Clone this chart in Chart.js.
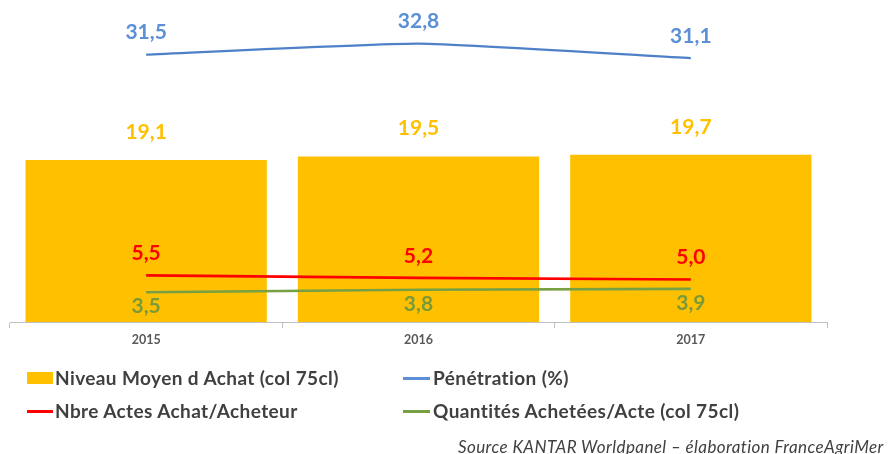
<!DOCTYPE html>
<html>
<head>
<meta charset="utf-8">
<script src="https://cdn.jsdelivr.net/npm/chart.js@4/dist/chart.umd.min.js"></script>
<style>
  html, body { margin: 0; padding: 0; background: #fff; }
  #wrap { position: relative; width: 894px; height: 454px; overflow: hidden; }
  canvas { position: absolute; left: 0; top: 0; }
  .lg { position: absolute; font-family: Lato, "Open Sans", sans-serif; font-weight: bold; font-size: 19px; letter-spacing: 0.4px; color: #404040; white-space: nowrap; line-height: 20px; }
  .sw { position: absolute; }
  #src { position: absolute; left: 458px; top: 437px; font-family: Lato, "Open Sans", sans-serif; font-style: italic; font-size: 17px; letter-spacing: 0.4px; color: #404040; white-space: nowrap; line-height: 20px; }
</style>
</head>
<body>
<div id="wrap">
  <canvas id="c" width="894" height="454"></canvas>
  <div class="sw" style="left:27px;top:372px;width:26px;height:12px;background:#FFC000"></div>
  <div class="lg" style="left:55px;top:368px;">Niveau Moyen d Achat (col 75cl)</div>
  <div class="sw" style="left:403px;top:377px;width:27px;height:3px;background:#5B8FD6"></div>
  <div class="lg" style="left:433px;top:368px;">Pénétration (%)</div>
  <div class="sw" style="left:27px;top:410px;width:26px;height:3px;background:#FF0000"></div>
  <div class="lg" style="left:55px;top:401px;">Nbre Actes Achat/Acheteur</div>
  <div class="sw" style="left:403px;top:410px;width:27px;height:3px;background:#77A043"></div>
  <div class="lg" style="left:433px;top:401px;">Quantités Achetées/Acte (col 75cl)</div>
  <div id="src">Source KANTAR Worldpanel – élaboration FranceAgriMer</div>
</div>
<script>
const years = ["2015", "2016", "2017"];
const niveauMoyen = [19.1, 19.5, 19.7];
const penetration = [31.5, 32.8, 31.1];
const actesAchat = [5.5, 5.2, 5.0];
const quantitesActe = [3.5, 3.8, 3.9];

const labelPlugin = {
  id: 'valueLabels',
  afterDatasetsDraw(chart) {
    const ctx = chart.ctx;
    chart.data.datasets.forEach((ds, di) => {
      const meta = chart.getDatasetMeta(di);
      const cfg = ds.lbl;
      ctx.save();
      ctx.font = 'bold 21px Lato, "Open Sans", sans-serif';
      ctx.fillStyle = cfg.color;
      ctx.textAlign = 'center';
      ctx.textBaseline = 'middle';
      meta.data.forEach((el, i) => {
        const v = ds.data[i];
        ctx.fillText(v.toFixed(1).replace('.', ','), el.x, el.y + cfg.dy);
      });
      ctx.restore();
    });
  }
};

new Chart(document.getElementById('c'), {
  type: 'bar',
  data: {
    labels: years,
    datasets: [
      { type: 'line', label: 'Pénétration (%)', data: penetration, borderColor: '#4F81C9', borderWidth: 2.2, pointRadius: 0, tension: 0.15, order: 1, lbl: { color: '#5B8FD6', dy: -22 } },
      { type: 'line', label: 'Nbre Actes Achat/Acheteur', data: actesAchat, borderColor: '#FF0000', borderWidth: 2.6, pointRadius: 0, tension: 0, order: 1, lbl: { color: '#FF0000', dy: -22 } },
      { type: 'line', label: 'Quantités Achetées/Acte (col 75cl)', data: quantitesActe, borderColor: '#77A043', borderWidth: 2.6, pointRadius: 0, tension: 0, order: 1, lbl: { color: '#7A9A3A', dy: 14 } },
      { type: 'bar', label: 'Niveau Moyen d Achat (col 75cl)', data: niveauMoyen, backgroundColor: '#FFC000', categoryPercentage: 1, barPercentage: 0.886, order: 2, lbl: { color: '#FFC000', dy: -28 } }
    ]
  },
  options: {
    responsive: false,
    animation: false,
    layout: { padding: { left: 10, right: 67, top: 25, bottom: 110 } },
    plugins: { legend: { display: false }, tooltip: { enabled: false } },
    scales: {
      x: {
        offset: true,
        grid: { display: true, offset: true, drawOnChartArea: false, drawTicks: true, tickLength: 6, color: '#BFBFBF', lineWidth: 1 },
        border: { display: true, color: '#BFBFBF', width: 1 },
        ticks: { color: '#595959', font: { family: 'Lato, "Open Sans", sans-serif', size: 12.5, weight: 'bold' }, padding: 4 },
        afterFit(s) { s.height = 22; }
      },
      y: { display: false, min: 0, max: 35 }
    }
  },
  plugins: [labelPlugin]
});
</script>
</body>
</html>
